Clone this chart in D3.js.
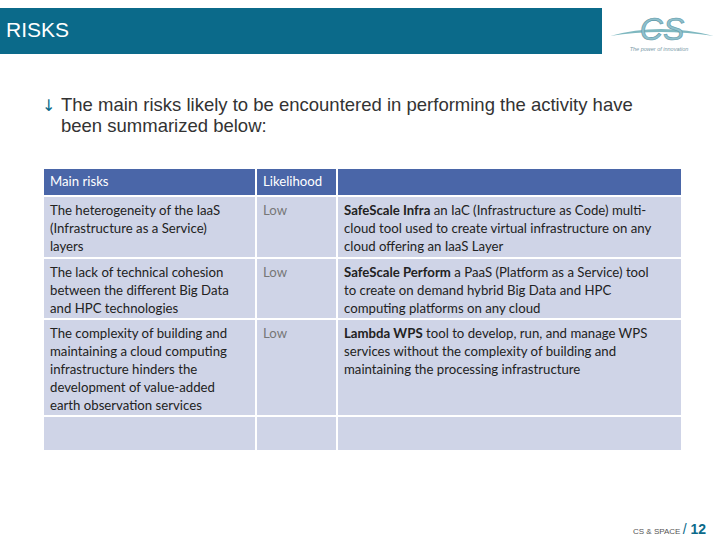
<!DOCTYPE html>
<html><head><meta charset="utf-8">
<script src="https://cdn.jsdelivr.net/npm/d3@7"></script>
<style>body{margin:0;background:#fff}svg{display:block}</style>
</head><body>
<svg id="slide" width="720" height="540"></svg>
<script>
const headers = ["Main risks", "Likelihood", ""]
const risks = [
  ["The heterogeneity of the IaaS", "(Infrastructure as a Service)", "layers"],
  ["The lack of technical cohesion", "between the different Big Data", "and HPC technologies"],
  ["The complexity of building and", "maintaining a cloud computing", "infrastructure hinders the", "development of value-added", "earth observation services"],
  []
]
const likelihood = ["Low", "Low", "Low", ""]
const mitigation = [
  [[["SafeScale Infra", true], [" an IaC (Infrastructure as Code) multi-", false]], [["cloud tool used to create virtual infrastructure on any", false]], [["cloud offering an IaaS Layer", false]]],
  [[["SafeScale Perform", true], [" a PaaS (Platform as a Service) tool", false]], [["to create on demand hybrid Big Data and HPC", false]], [["computing platforms on any cloud", false]]],
  [[["Lambda WPS", true], [" tool to develop, run, and manage WPS", false]], [["services without the complexity of building and", false]], [["maintaining the processing infrastructure", false]]],
  []
]
const rowTops = [197, 259, 320, 417]
const rowBottoms = [257, 318, 415, 450]

const svg = d3.select("#slide")
const font = "Lato, 'Open Sans', sans-serif"
const fs = 13.2

// header bar
svg.append("rect").attr("x", 0).attr("y", 8).attr("width", 602).attr("height", 46).attr("fill", "#0b6a8a")
svg.append("text").attr("x", 6).attr("y", 37).attr("fill", "#fff")
  .attr("font-family", "'Liberation Sans', Arial").attr("font-size", 21).text("RISKS")

// logo
const logo = svg.append("g")
logo.append("path").attr("d", "M610,36 Q660,22 714,36 Q660,28 610,36 Z").attr("fill", "#7fb8c0")
logo.append("text").attr("x", 662).attr("y", 40).attr("text-anchor", "middle")
  .attr("font-family", "'Liberation Sans', Arial").attr("font-size", 32).attr("font-style", "italic")
  .attr("fill", "#8fc0cc").attr("stroke", "#5c98a8").attr("stroke-width", 0.6).text("CS")
logo.append("text").attr("x", 659).attr("y", 51).attr("text-anchor", "middle")
  .attr("font-family", "'Liberation Sans', Arial").attr("font-size", 5.5).attr("font-style", "italic")
  .attr("fill", "#7a9aa8").text("The power of innovation")

// bullet
svg.append("text").attr("x", 42).attr("y", 111).attr("font-family", "'DejaVu Sans', sans-serif")
  .attr("font-size", 16).attr("fill", "#0b6a8a").text("\u2193")
const intro = svg.append("text").attr("font-family", "'Liberation Sans', Arial").attr("font-size", 18.5).attr("fill", "#333")
intro.append("tspan").attr("x", 61).attr("y", 111).text("The main risks likely to be encountered in performing the activity have")
intro.append("tspan").attr("x", 61).attr("y", 132).text("been summarized below:")

// table
const colEdges = [44, 257, 338, 681]
const gap = 2
const cell = (x0, x1, y0, y1, fill) =>
  svg.append("rect").attr("x", x0).attr("y", y0).attr("width", x1 - x0 - gap).attr("height", y1 - y0).attr("fill", fill)

headers.forEach((h, i) => {
  cell(colEdges[i], colEdges[i + 1] + (i === 2 ? gap : 0), 169, 195, "#4a66a8")
  svg.append("text").attr("x", colEdges[i] + 6).attr("y", 186).attr("fill", "#fff")
    .attr("font-family", font).attr("font-size", fs).text(h)
})

const lineH = 18
risks.forEach((r, i) => {
  const y0 = rowTops[i], y1 = rowBottoms[i]
  cell(colEdges[0], colEdges[1], y0, y1, "#cfd4e7")
  cell(colEdges[1], colEdges[2], y0, y1, "#cfd4e7")
  cell(colEdges[2], colEdges[3] + gap, y0, y1, "#cfd4e7")
  const t = svg.append("text").attr("font-family", font).attr("font-size", fs).attr("fill", "#222")
  r.forEach((l, k) => t.append("tspan").attr("x", colEdges[0] + 6).attr("y", y0 + 18 + k * lineH).text(l))
  svg.append("text").attr("x", colEdges[1] + 6).attr("y", y0 + 18).attr("font-family", font)
    .attr("font-size", fs).attr("fill", "#777").text(likelihood[i])
  mitigation[i].forEach((line, k) => {
    const m = svg.append("text").attr("x", colEdges[2] + 6).attr("y", y0 + 18 + k * lineH)
      .attr("font-family", font).attr("font-size", fs).attr("fill", "#222")
    line.forEach(([s, b]) => m.append("tspan").attr("font-weight", b ? "bold" : "normal").text(s))
  })
})

// footer
const foot = svg.append("text").attr("x", 706).attr("y", 534).attr("text-anchor", "end")
  .attr("font-family", "'Liberation Sans', Arial")
foot.append("tspan").attr("font-size", 8).attr("fill", "#555").text("CS & SPACE ")
foot.append("tspan").attr("font-size", 14).attr("fill", "#0b6a8a").text("/ ")
foot.append("tspan").attr("font-size", 14).attr("font-weight", "bold").attr("fill", "#0b6a8a").text("12")
</script>
</body></html>
